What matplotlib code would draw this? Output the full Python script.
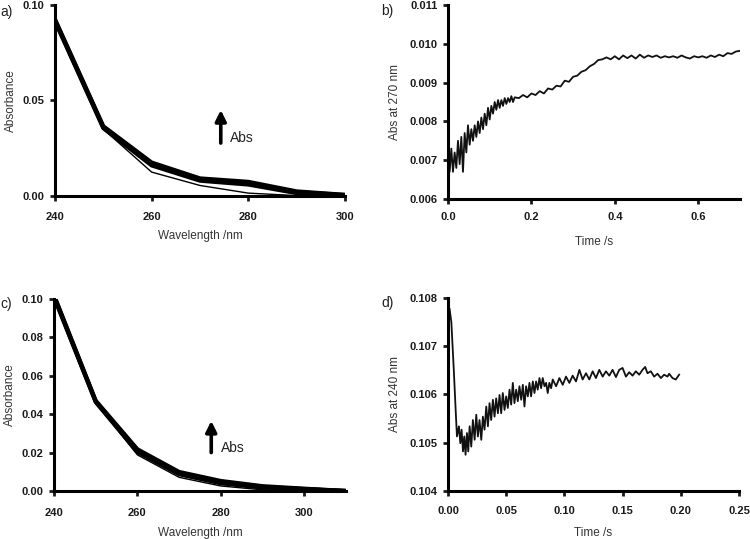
import numpy as np
import matplotlib
matplotlib.use('Agg')
import matplotlib.pyplot as plt

plt.rcParams['font.family'] = ['Liberation Sans', 'DejaVu Sans']

# ---- panel a: spectra, 240-300 nm ----
wl_a = [240, 250, 260, 270, 280, 290, 300]
spec_a_first = [0.0905, 0.0350, 0.0125, 0.0055, 0.0015, 0.0002, 0.0000]
spec_a_later = [
    [0.0915, 0.0355, 0.0160, 0.0080, 0.0060, 0.0015, 0.0003],
    [0.0920, 0.0360, 0.0168, 0.0086, 0.0068, 0.0020, 0.0005],
    [0.0925, 0.0365, 0.0175, 0.0092, 0.0074, 0.0024, 0.0006],
]

# ---- panel c: spectra, 240-310 nm ----
wl_c = [240, 250, 260, 270, 280, 290, 300, 310]
spec_c_first = [0.1005, 0.0460, 0.0188, 0.0071, 0.0026, 0.0006, 0.0002, 0.0000]
spec_c_later = [
    [0.1010, 0.0463, 0.0203, 0.0087, 0.0040, 0.0018, 0.0008, 0.0000],
    [0.1015, 0.0467, 0.0210, 0.0093, 0.0046, 0.0021, 0.0010, 0.0000],
    [0.1020, 0.0470, 0.0217, 0.0099, 0.0052, 0.0025, 0.0012, 0.0000],
]

# ---- panel b: kinetic trace at 270 nm (values in mAbs) ----
t_b_fast = np.round(np.arange(0, 0.1601, 0.004), 3)
abs_b_fast = [7.10, 6.70, 7.30, 6.70, 7.20, 6.80, 7.50, 6.90, 7.60, 6.70,
              7.70, 7.20, 7.90, 7.40, 7.80, 7.50, 7.90, 7.60, 8.00, 7.70,
              8.10, 7.80, 8.20, 7.90, 8.35, 8.05, 8.40, 8.20, 8.50, 8.30,
              8.55, 8.35, 8.55, 8.40, 8.60, 8.45, 8.60, 8.50, 8.65, 8.50,
              8.62]
t_b_slow = np.round(np.arange(0.17, 0.7001, 0.01), 3)
abs_b_slow = [8.60, 8.68, 8.62, 8.72, 8.68, 8.78, 8.72, 8.85, 8.82, 8.92,
              8.90, 9.05, 9.02, 9.15, 9.18, 9.28, 9.32, 9.42, 9.48, 9.58,
              9.60, 9.65, 9.60, 9.68, 9.60, 9.70, 9.63, 9.70, 9.62, 9.72,
              9.64, 9.70, 9.66, 9.70, 9.64, 9.68, 9.65, 9.68, 9.64, 9.70,
              9.65, 9.62, 9.68, 9.65, 9.68, 9.64, 9.70, 9.66, 9.72, 9.68,
              9.76, 9.74, 9.80, 9.82]

# ---- panel d: kinetic trace at 240 nm ----
t_d = [0.0014, 0.0029, 0.0050, 0.0066, 0.0077, 0.0094, 0.0106, 0.0117,
       0.0129, 0.0140, 0.0151, 0.0163, 0.0174, 0.0186, 0.0200, 0.0214,
       0.0229, 0.0243, 0.0257, 0.0271, 0.0286, 0.0300, 0.0314, 0.0329,
       0.0343, 0.0357, 0.0371, 0.0386, 0.0400, 0.0414, 0.0429, 0.0443,
       0.0457, 0.0471, 0.0486, 0.0500, 0.0514, 0.0529, 0.0543, 0.0557,
       0.0571, 0.0586, 0.0600, 0.0614, 0.0629, 0.0643, 0.0657, 0.0671,
       0.0686, 0.0700, 0.0714, 0.0729, 0.0743, 0.0757, 0.0771, 0.0786,
       0.0800, 0.0814, 0.0829, 0.0843, 0.0857, 0.0871, 0.0886, 0.0900,
       0.0929, 0.0957, 0.0986, 0.1014, 0.1043, 0.1071, 0.1100, 0.1129,
       0.1157, 0.1186, 0.1214, 0.1243, 0.1271, 0.1300, 0.1329, 0.1357,
       0.1386, 0.1414, 0.1443, 0.1471, 0.1500, 0.1529, 0.1557, 0.1586,
       0.1614, 0.1643, 0.1671, 0.1694, 0.1714, 0.1743, 0.1771, 0.1800,
       0.1829, 0.1857, 0.1886, 0.1900, 0.1929, 0.1957, 0.1986]
abs_d = [0.10777, 0.10750, 0.10651, 0.10568, 0.10513, 0.10534, 0.10499, 0.10527,
         0.10482, 0.10513, 0.10475, 0.10520, 0.10482, 0.10534, 0.10492, 0.10547,
         0.10506, 0.10558, 0.10513, 0.10547, 0.10506, 0.10554, 0.10527, 0.10575,
         0.10534, 0.10582, 0.10547, 0.10589, 0.10554, 0.10592, 0.10561, 0.10599,
         0.10561, 0.10603, 0.10568, 0.10596, 0.10572, 0.10610, 0.10579, 0.10624,
         0.10582, 0.10610, 0.10586, 0.10617, 0.10589, 0.10620, 0.10575, 0.10617,
         0.10596, 0.10624, 0.10596, 0.10627, 0.10603, 0.10627, 0.10610, 0.10634,
         0.10613, 0.10634, 0.10617, 0.10624, 0.10603, 0.10624, 0.10613, 0.10631,
         0.10617, 0.10634, 0.10620, 0.10637, 0.10624, 0.10639, 0.10627, 0.10651,
         0.10631, 0.10644, 0.10631, 0.10648, 0.10634, 0.10651, 0.10637, 0.10648,
         0.10639, 0.10651, 0.10636, 0.10651, 0.10655, 0.10637, 0.10646, 0.10639,
         0.10648, 0.10641, 0.10651, 0.10657, 0.10644, 0.10648, 0.10637, 0.10643,
         0.10634, 0.10641, 0.10637, 0.10643, 0.10634, 0.10631, 0.10641]

LABEL_COLOR = '#333333'


def style_axes(ax, xpad):
    for side in ['top', 'right']:
        ax.spines[side].set_visible(False)
    for side in ['left', 'bottom']:
        ax.spines[side].set_linewidth(2.2)
    ax.tick_params(direction='out', length=3.5, width=2, labelsize=8,
                   colors='#1a1a1a')
    ax.tick_params(axis='x', pad=xpad)
    ax.tick_params(axis='y', pad=4)
    for lab in ax.get_xticklabels() + ax.get_yticklabels():
        lab.set_fontweight('bold')


fig = plt.figure(figsize=(7.5, 5.39), dpi=100)
ax_a = fig.add_axes([0.0733, 0.6364, 0.3867, 0.3544])
ax_b = fig.add_axes([0.5973, 0.6308, 0.3893, 0.3599])
ax_c = fig.add_axes([0.0720, 0.0891, 0.3893, 0.3562])
ax_d = fig.add_axes([0.5973, 0.0891, 0.3880, 0.3581])

arrow_props = dict(arrowstyle='-|>', color='black', lw=2.6,
                   mutation_scale=16, shrinkA=0, shrinkB=0)

# a)
ax_a.plot(wl_a, spec_a_first, color='black', lw=1)
for s in spec_a_later:
    ax_a.plot(wl_a, s, color='black', lw=3)
ax_a.set_xlim(240, 300)
ax_a.set_ylim(0, 0.10)
ax_a.set_xticks([240, 260, 280, 300])
ax_a.set_yticks([0, 0.05, 0.10])
ax_a.set_yticklabels(['0.00', '0.05', '0.10'])
ax_a.set_xlabel('Wavelength /nm', fontsize=8.5, labelpad=6, color=LABEL_COLOR)
ax_a.set_ylabel('Absorbance', fontsize=8.5, labelpad=4, color=LABEL_COLOR)
ax_a.annotate('', xy=(274.3, 0.045), xytext=(274.3, 0.0277),
              arrowprops=arrow_props)
ax_a.text(276.3, 0.0305, 'Abs', fontsize=10, va='center', ha='left',
          color='#222222')
style_axes(ax_a, 8)

# b)
ax_b.plot(np.concatenate([t_b_fast, t_b_slow]),
          np.concatenate([abs_b_fast, abs_b_slow]) * 1e-3,
          color='#111111', lw=1.3)
ax_b.set_xlim(0, 0.7)
ax_b.set_ylim(0.006, 0.011)
ax_b.set_xticks([0, 0.2, 0.4, 0.6])
ax_b.set_xticklabels(['0.0', '0.2', '0.4', '0.6'])
ax_b.set_yticks([0.006, 0.007, 0.008, 0.009, 0.010, 0.011])
ax_b.set_yticklabels(['0.006', '0.007', '0.008', '0.009', '0.010', '0.011'])
ax_b.set_xlabel('Time /s', fontsize=8.5, labelpad=10, color=LABEL_COLOR)
ax_b.set_ylabel('Abs at 270 nm', fontsize=8.5, labelpad=6, color=LABEL_COLOR)
style_axes(ax_b, 6)

# c)
ax_c.plot(wl_c, spec_c_first, color='black', lw=1)
for s in spec_c_later:
    ax_c.plot(wl_c, s, color='black', lw=3)
ax_c.set_xlim(240, 310)
ax_c.set_ylim(0, 0.10)
ax_c.set_xticks([240, 260, 280, 300])
ax_c.set_yticks([0, 0.02, 0.04, 0.06, 0.08, 0.10])
ax_c.set_yticklabels(['0.00', '0.02', '0.04', '0.06', '0.08', '0.10'])
ax_c.set_xlabel('Wavelength /nm', fontsize=8.5, labelpad=7, color=LABEL_COLOR)
ax_c.set_ylabel('Absorbance', fontsize=8.5, labelpad=4, color=LABEL_COLOR)
ax_c.annotate('', xy=(277.7, 0.0365), xytext=(277.7, 0.020),
              arrowprops=arrow_props)
ax_c.text(280.0, 0.0222, 'Abs', fontsize=10, va='center', ha='left',
          color='#222222')
style_axes(ax_c, 8.5)

# d)
ax_d.plot(t_d, abs_d, color='#111111', lw=1.3)
ax_d.set_xlim(0, 0.25)
ax_d.set_ylim(0.104, 0.108)
ax_d.set_xticks([0, 0.05, 0.10, 0.15, 0.20, 0.25])
ax_d.set_xticklabels(['0.00', '0.05', '0.10', '0.15', '0.20', '0.25'])
ax_d.set_yticks([0.104, 0.105, 0.106, 0.107, 0.108])
ax_d.set_yticklabels(['0.104', '0.105', '0.106', '0.107', '0.108'])
ax_d.set_xlabel('Time /s', fontsize=8.5, labelpad=8, color=LABEL_COLOR)
ax_d.set_ylabel('Abs at 240 nm', fontsize=8.5, labelpad=6, color=LABEL_COLOR)
style_axes(ax_d, 7)

# panel letters
fig.text(0.001, 0.978, 'a)', fontsize=10, va='center', ha='left', color='#222222')
fig.text(0.508, 0.980, 'b)', fontsize=10, va='center', ha='left', color='#222222')
fig.text(0.001, 0.436, 'c)', fontsize=10, va='center', ha='left', color='#222222')
fig.text(0.508, 0.438, 'd)', fontsize=10, va='center', ha='left', color='#222222')

fig.savefig('out.png', dpi=100)
